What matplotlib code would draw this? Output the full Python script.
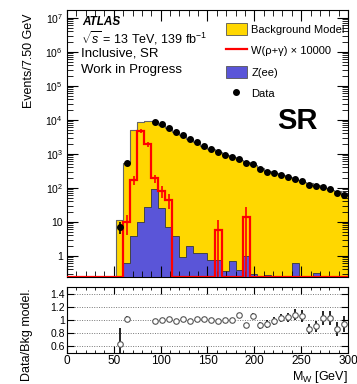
import numpy as np
import matplotlib
matplotlib.use('Agg')
import matplotlib.pyplot as plt
from matplotlib.patches import Patch
from matplotlib.lines import Line2D
from matplotlib.ticker import MultipleLocator, LogLocator, FuncFormatter, NullFormatter, FixedLocator

plt.rcParams['font.family'] = ['Liberation Sans', 'DejaVu Sans']
plt.rcParams['mathtext.fontset'] = 'custom'
plt.rcParams['mathtext.rm'] = 'Liberation Sans'
plt.rcParams['mathtext.it'] = 'Liberation Sans:italic'
plt.rcParams['mathtext.bf'] = 'Liberation Sans:bold'

nan = np.nan
# 40 bins of 7.5 GeV from 0 to 300
edges = np.arange(0, 307.5, 7.5)

bkg = [0, 0, 0, 0, 0, 0, 0,
       11, 525, 4900, 8600, 9100, 9000, 7250, 5750, 4360, 3520,
       2780, 2180, 1725, 1400, 1140, 945, 805, 655, 565, 462,
       386, 319, 275, 233, 202, 171, 145, 136, 122, 100,
       88, 82, 67]
data = [nan, nan, nan, nan, nan, nan, nan,
        7, 530, nan, nan, nan, 8900, 7300, 5800, 4300, 3550,
        2750, 2200, 1750, 1400, 1130, 940, 800, 700, 520, 490,
        355, 300, 270, 240, 210, 185, 154, 117, 110, 103,
        91, 71, 63]
zee = [0, 0, 0, 0, 0, 0, 0,
       0, 0.6, 3.9, 10, 28, 92, 25, 7.2, 3.7, 0.9,
       2.0, 1.2, 1.2, 0.76, 0.76, 0.36, 0.7, 0.37, 1.0, 0.3,
       0, 0.28, 0, 0, 0, 0.63, 0, 0, 0.32, 0,
       0, 0, 0]
sig = [0, 0, 0, 0, 0, 0, 0,
       0, 10, 175, 4600, 1900, 190, 80, 45, 0, 0,
       0, 0, 0, 0, 5.8, 0, 0, 0, 13.5, 0,
       0, 0, 0, 0, 0, 0, 0, 0, 0, 0,
       0, 0, 0]
sig_err = [0, 0, 0, 0, 0, 0, 0,
           0, 6, 50, 600, 350, 55, 30, 22, 0, 0,
           0, 0, 0, 0, 5.8, 0, 0, 0, 13.5, 0,
           0, 0, 0, 0, 0, 0, 0, 0, 0, 0,
           0, 0, 0]
main_yticks = [1, 10, 1e2, 1e3, 1e4, 1e5, 1e6, 1e7]
ratio_yticks = [0.6, 0.8, 1.0, 1.2, 1.4]

bkg = np.array(bkg, float)
data = np.array(data, float)
zee = np.array(zee, float)
sig = np.array(sig, float)
sig_err = np.array(sig_err, float)
centers = 0.5 * (edges[:-1] + edges[1:])

yellow = '#ffd700'
blue = '#5a55d8'
ymin, ymax = 0.24, 1.7e7
floor = 1e-3

fig = plt.figure(figsize=(3.57, 3.84), dpi=100)
ax = fig.add_axes([0.1877, 0.279, 0.787, 0.695])
ax2 = fig.add_axes([0.1877, 0.0807, 0.787, 0.172])

ax.set_yscale('log')
ax.stairs(np.where(bkg > 0, bkg, floor), edges, baseline=floor, fill=True, color=yellow)
ax.stairs(np.where(bkg > 0, bkg, floor), edges, baseline=floor, color='#666666', lw=0.8)
ax.stairs(np.where(zee > 0, zee, floor), edges, baseline=floor, fill=True, color=blue)
ax.stairs(np.where(zee > 0, zee, floor), edges, baseline=floor, color='#444444', lw=0.7)
ax.stairs(np.where(sig > 0, sig, ymin), edges, baseline=None, color='red', lw=1.6, zorder=3)
m = sig > 0
lo = sig[m] - np.maximum(sig[m] - sig_err[m], floor)
ax.errorbar(centers[m], sig[m], yerr=[lo, sig_err[m]], fmt='none', ecolor='red', lw=1.2, zorder=3)
ax.errorbar(centers, data, yerr=np.sqrt(data), fmt='o', color='black', ms=4, lw=1.2, capsize=0, zorder=4)

ax.set_xlim(0, 300)
ax.set_ylim(ymin, ymax)
ax.yaxis.set_major_locator(FixedLocator(main_yticks))
ax.yaxis.set_minor_locator(LogLocator(base=10, subs=np.arange(2, 10), numticks=20))
ax.yaxis.set_minor_formatter(NullFormatter())
ax.yaxis.set_major_formatter(FuncFormatter(
    lambda v, p: '1' if v == 1 else ('10' if v == 10 else r'$10^{%d}$' % round(np.log10(v)))))
ax.xaxis.set_major_locator(MultipleLocator(50))
ax.xaxis.set_minor_locator(MultipleLocator(10))
ax.tick_params(which='both', direction='in', top=True, right=True, labelbottom=False, labelsize=7.5, pad=3)
ax.tick_params(which='major', length=8)
ax.tick_params(which='minor', length=4)

handles = [Patch(facecolor=yellow, edgecolor='#555555', lw=0.6),
           Line2D([], [], color='red', lw=1.6),
           Patch(facecolor=blue, edgecolor='#555555', lw=0.6),
           Line2D([], [], color='black', marker='o', ls='none', ms=4)]
labels = ['Background Model', 'W(ρ+γ) × 10000', 'Z(ee)', 'Data']
ax.legend(handles, labels, loc='upper left', bbox_to_anchor=(0.565, 0.952), frameon=False,
          fontsize=8, handlelength=1.9, handleheight=1.3, labelspacing=0.85,
          handletextpad=0.4, borderaxespad=0, borderpad=0)

ax.text(297 / 357, 1 - 121 / 384, 'SR', transform=fig.transFigure, fontsize=21,
        fontweight='bold', ha='center', va='center')
fig.text(82 / 357, 1 - 22 / 384, 'ATLAS', fontsize=8.5, fontweight='bold', style='italic', va='center')
fig.text(81 / 357, 1 - 38 / 384, r'$\sqrt{s}$ = 13 TeV, 139 fb$^{-1}$', fontsize=9, va='center')
fig.text(81 / 357, 1 - 54 / 384, 'Inclusive, SR', fontsize=9.5, va='center')
fig.text(81 / 357, 1 - 70 / 384, 'Work in Progress', fontsize=9.5, va='center')
fig.text(29 / 357, 1 - 13 / 384, 'Events/7.50 GeV', rotation=90, fontsize=9, ha='center', va='top')

# ratio panel
with np.errstate(divide='ignore', invalid='ignore'):
    ratio = np.where(bkg > 0, data / bkg, nan)
    ratio_err = np.where(bkg > 0, np.sqrt(data) / bkg, nan)
for yv in ratio_yticks:
    ax2.axhline(yv, color='#777777', ls=(0, (1, 1.5)), lw=0.7, zorder=0)
ax2.errorbar(centers, ratio, yerr=ratio_err, fmt='o', mfc='white', mec='#555555', ecolor='black',
             ms=4, mew=0.8, lw=1.2, capsize=0, zorder=3)
ax2.set_xlim(0, 300)
ax2.set_ylim(0.5, 1.5)
ax2.yaxis.set_major_locator(FixedLocator(ratio_yticks))
ax2.yaxis.set_major_formatter(FuncFormatter(lambda v, p: '%g' % v))
ax2.xaxis.set_major_locator(MultipleLocator(50))
ax2.xaxis.set_minor_locator(MultipleLocator(10))
ax2.tick_params(which='both', direction='in', top=True, right=True, pad=1.5)
ax2.tick_params(axis='x', labelsize=8.5)
ax2.tick_params(axis='y', labelsize=7.5)
ax2.tick_params(which='major', length=5)
ax2.tick_params(which='minor', length=2.5)
fig.text(27 / 357, 1 - 288 / 384, 'Data/Bkg model.', rotation=90, fontsize=9, ha='center', va='top')
fig.text(348 / 357, 1 - 377 / 384, r'M$_{\mathrm{W}}$ [GeV]', fontsize=9, ha='right', va='center')

fig.savefig('out.png', dpi=100)
